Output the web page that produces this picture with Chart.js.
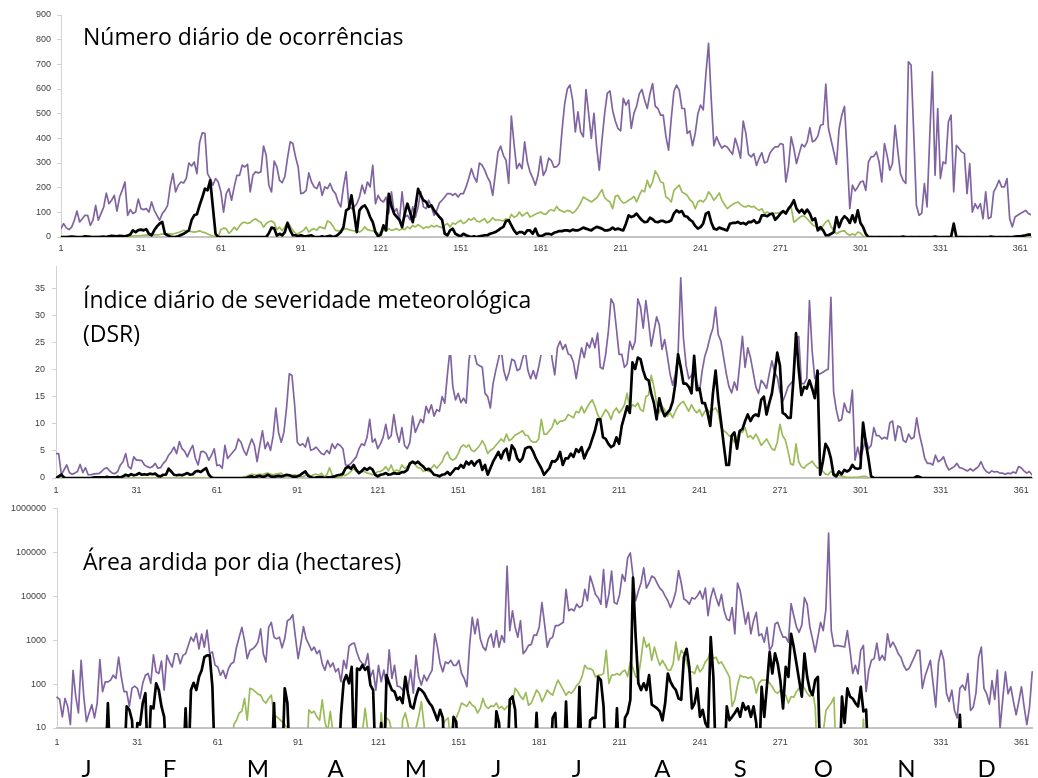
<!DOCTYPE html>
<html lang="pt">
<head>
<meta charset="utf-8">
<title>Ocorrências, DSR e área ardida por dia</title>
<script src="https://cdn.jsdelivr.net/npm/chart.js@4.4.0/dist/chart.umd.min.js"></script>
<style>
  html, body { margin: 0; padding: 0; background: #fff; }
  #wrap { position: relative; width: 1038px; height: 778px; overflow: hidden; background: #fff; }
  #wrap canvas { position: absolute; left: 0; }
</style>
</head>
<body>
<div id="wrap">
  <canvas id="cOcc" width="1038" height="254" style="top:0px"></canvas>
  <canvas id="cDsr" width="1038" height="242" style="top:254px"></canvas>
  <canvas id="cArea" width="1038" height="282" style="top:496px"></canvas>
</div>
<script>
// ---- axis ticks and labels ----
const dayTicks = [1, 31, 61, 91, 121, 151, 181, 211, 241, 271, 301, 331, 361];
const occTicks = [0, 100, 200, 300, 400, 500, 600, 700, 800, 900];
const dsrTicks = [0, 5, 10, 15, 20, 25, 30, 35];
const areaTicks = [10, 100, 1000, 10000, 100000, 1000000];
const monthLetters = ['J', 'F', 'M', 'A', 'M', 'J', 'J', 'A', 'S', 'O', 'N', 'D'];
const monthMidDays = [12, 43, 76, 105, 135, 165, 195, 227, 256, 287, 318, 348];

const titleOcc = ['Número diário de ocorrências'];
const titleDsr = ['Índice diário de severidade meteorológica', '(DSR)'];
const titleArea = ['Área ardida por dia (hectares)'];

// ---- daily number of occurrences (days 1..365) ----
const occTotal = [
  34,54,37,30,40,68,105,61,74,88,
  88,47,68,128,68,95,120,178,135,149,
  169,105,162,190,223,88,111,95,101,154,
  115,111,115,101,142,108,88,68,95,108,
  128,206,257,183,210,223,219,237,300,288,
  304,257,382,422,420,257,237,210,237,223,
  183,101,176,196,149,203,250,250,291,284,
  295,183,250,264,260,264,369,331,210,183,
  308,284,230,220,245,320,386,379,325,284,
  176,179,189,260,223,203,196,223,169,203,
  196,217,189,176,142,122,203,264,128,115,
  122,135,162,210,176,223,203,291,135,169,
  149,142,162,95,183,101,115,68,183,81,
  88,70,122,81,122,183,122,115,149,122,
  88,108,138,149,162,176,176,169,176,162,
  176,176,203,237,277,244,223,300,291,271,
  244,223,169,257,345,368,331,311,217,490,
  379,277,298,277,386,304,264,240,210,250,
  327,250,271,320,310,283,285,298,430,540,
  600,616,555,426,507,426,406,598,501,400,
  501,365,271,392,500,582,592,514,470,440,
  430,562,535,555,440,501,530,580,598,555,
  521,580,622,530,521,494,494,408,352,480,
  590,616,595,521,521,420,430,370,420,500,
  535,515,660,785,560,370,406,380,360,370,
  365,350,335,400,365,320,470,420,335,325,
  338,290,320,342,300,305,340,355,365,365,
  379,375,223,284,406,359,298,338,376,365,
  386,443,386,392,409,453,456,620,440,392,
  345,295,440,494,530,338,115,210,187,203,
  223,227,189,304,325,327,345,304,223,379,
  331,271,298,453,352,257,230,217,710,697,
  420,128,88,97,217,122,406,670,250,521,
  237,304,298,467,494,183,372,359,345,338,
  176,298,101,135,115,135,74,183,74,81,
  183,203,230,203,203,237,74,41,81,88,
  95,101,108,95,90
];
const occGreen = [
  2,2,1,1,2,2,1,1,2,3,
  2,1,1,2,2,1,1,2,3,3,
  2,2,3,3,4,3,3,4,5,5,
  6,7,8,8,9,10,9,10,12,13,
  14,13,12,15,18,22,27,25,24,22,
  20,22,25,20,18,12,8,4,2,1,
  30,36,34,15,25,40,28,45,57,60,
  55,58,68,74,65,60,40,55,62,65,
  58,30,40,25,40,61,45,27,15,13,
  20,27,40,20,30,34,27,41,38,34,
  65,60,45,27,25,27,30,34,30,27,
  25,27,20,27,41,30,27,25,20,13,
  20,27,25,34,27,30,34,27,34,30,
  41,34,47,41,50,43,34,41,38,47,
  41,47,41,38,47,55,41,57,52,61,
  68,55,61,74,68,78,65,61,68,74,
  57,65,78,68,70,68,65,74,68,92,
  80,85,101,85,92,100,81,86,92,97,
  101,94,92,105,111,105,124,110,105,101,
  108,105,97,105,120,138,162,155,149,142,
  150,158,175,192,160,149,142,115,165,169,
  150,138,140,149,155,165,142,169,190,183,
  230,200,223,268,250,223,220,162,155,142,
  189,200,210,183,176,169,151,142,115,142,
  149,142,155,183,169,149,162,179,149,132,
  115,124,132,138,142,132,124,122,128,122,
  124,115,108,115,95,101,95,92,97,97,
  100,100,100,110,122,60,68,78,85,85,
  74,62,50,44,38,27,47,61,68,41,
  27,13,20,24,25,13,7,13,7,20,
  16,3,2,1,2,1,1,2,1,1,
  1,2,1,1,1,2,1,1,1,2,
  1,1,2,1,1,1,1,2,1,1,
  1,1,1,2,1,1,1,1,2,1,
  1,1,1,1,2,1,1,1,1,1,
  2,1,1,1,1,2,1,1,1,2,
  1,2,2,2,3
];
const occBlack = [
  0,0,0,1,2,1,0,0,0,3,
  2,1,0,0,0,1,2,0,3,5,
  4,3,5,4,3,6,10,27,20,28,
  30,27,32,13,7,27,43,54,61,13,
  7,2,0,1,3,8,13,20,27,68,
  88,92,128,160,196,189,230,120,13,0,
  0,0,0,0,0,0,0,0,0,0,
  0,0,0,0,0,0,0,0,15,38,
  35,6,13,7,20,57,27,7,7,3,
  7,4,3,5,7,0,0,0,3,0,
  3,5,0,3,10,20,40,108,115,169,
  95,20,108,122,128,110,81,60,20,3,
  10,47,27,175,125,95,81,70,40,95,
  135,100,60,120,195,170,149,142,122,128,
  108,95,81,70,13,7,27,34,13,7,
  3,13,7,3,0,3,0,3,5,7,
  7,13,16,20,27,35,41,65,68,47,
  27,13,20,20,13,27,27,13,34,7,
  3,7,13,13,10,17,20,24,24,27,
  27,24,30,27,27,32,38,34,30,27,
  35,41,38,34,27,27,30,38,30,34,
  30,27,54,88,81,85,95,80,68,60,
  62,78,72,62,60,65,65,60,62,68,
  95,108,100,105,85,82,70,62,45,34,
  40,55,95,101,60,34,30,38,34,30,
  27,54,57,57,61,54,57,51,61,60,
  68,57,61,88,88,84,92,95,70,81,
  95,105,95,115,128,149,115,100,111,95,
  111,95,68,75,27,40,27,7,7,13,
  20,81,40,70,84,75,57,88,60,108,
  57,40,13,0,0,0,0,0,0,0,
  0,0,0,0,0,0,2,0,0,0,
  0,0,0,0,0,0,0,0,2,0,
  0,0,0,0,0,54,0,0,0,0,
  0,0,0,0,0,0,0,0,0,2,
  0,0,0,0,0,0,0,0,2,3,
  3,5,7,10,10
];

// ---- daily severity rating, DSR (days 1..365) ----
const dsrTotal = [
  4.5,4.5,0.6,1.5,2.4,1,0.7,0.9,1.2,2.5,
  1,1.9,0.6,0.6,0.7,0.8,0.8,1.2,1.7,1.9,
  1.3,0.9,0.8,1.2,2.4,3,4.5,2.1,1.7,3.9,
  3.3,3.3,3.2,2.4,2.1,1.9,2.1,2.7,1.8,1.9,
  2.7,3.2,4.2,4.8,5.7,4.5,6.7,5.4,4.9,3.9,
  5.1,6,3.6,2.4,4.8,4.9,4.5,3.3,4.2,5.4,
  2.3,2.4,1.8,6,3.6,4.2,4.8,5.4,7.2,6.6,
  5.1,4.2,5.8,7.2,6,3,6,8.7,5.4,6.6,
  5.1,7.8,12.9,8.4,6.6,8.4,13,19.2,18.9,13.5,
  6.6,6,6.3,5.7,7.5,5.1,5.3,5.7,5.1,4.5,
  4.3,5.1,4.5,6.3,5.4,6.3,6,5.4,2.4,2.3,
  2.7,3.3,3.9,5.4,6.3,6,7.5,10.8,6.6,7.2,
  5.4,6.3,7.5,9.9,7.2,7.8,11.7,8.4,6.6,9.3,
  6,5.4,6.6,11.4,8.4,9.6,10.8,10.2,13.2,12,
  13.5,11.4,12.6,12.3,15,13.8,19.2,24,16.8,14.4,
  15.6,13.9,14.7,13.8,21.6,25,23,21,20.7,20.4,
  15.6,15,12.9,17.4,19.8,21.9,24,19.8,18,19.5,
  21.9,21.6,19.8,20.1,22,23.5,19.8,18.3,19.8,18.3,
  20.4,23,26,24,27,22,19,24,25.2,23.7,
  24.6,22.9,22.6,21.3,18.3,21.3,24,22.2,24.9,24,
  25.8,24,26.7,20.4,20.1,22.8,27,33,32.1,27.6,
  22.8,22.8,20.4,21,25.2,23.7,25.2,33,31.5,27.6,
  32.7,28.8,24.3,27,29.7,28.2,23.7,25.5,22.5,19.2,
  17.1,19.2,22.8,36.9,25.8,20.7,18.3,18.9,19.8,17.7,
  15.9,19.8,22.5,24,26.1,27.6,31.5,26.4,25.2,22.2,
  19.2,16.8,15.7,17.7,16.2,21,26.1,20.4,24,22.2,
  19.5,16.8,15.6,18,17.4,16.5,19.2,21.6,19.5,18.6,
  15.9,14.1,15.3,16.8,17.4,18,25.8,26.1,17.4,17.4,
  18.3,32.7,23.4,18.3,19.2,19.2,19.5,19.8,20.1,33.3,
  15.9,12.6,10.5,10.8,13.8,12.3,12,16.2,3.3,5.7,
  3.6,5.4,7.2,5.4,6,9.3,7.8,7.8,7.2,7.5,
  7.2,10.2,10.5,6.9,9.6,9.3,6.9,6.6,8.1,7.2,
  7.5,11.1,8.1,6,3.6,2.7,2.7,2.4,4.2,3,
  3.3,3.9,2.4,1.5,1.8,2.1,2.7,1.9,1.8,1.5,
  1.3,1.7,1.3,1.7,2.1,3,1.8,1.2,0.9,1.3,
  1.1,1.2,0.9,0.9,0.7,0.9,0.8,1.1,0.9,2.1,
  1.9,1.3,0.9,1.2,0.6
];
const dsrGreen = [
  0,0,0,0,0,0,0,0,0,0,
  0,0,0,0,0,0,0,0,0,0,
  0,0,0,0,0,0,0,0,0,0,
  0,0,0,0,0,0,0,0,0,0,
  0,0,0,0,0,0,0,0,0,0,
  0,0,0,0,0,0,0,0,0,0,
  0,0,0,0,0,0,0,0,0,0,
  0.2,0.3,0.5,0.7,0.6,0.6,0.7,0.6,0.8,0.9,
  0.7,0.6,0.7,0.8,0.9,0.5,0.4,0.3,0.5,0.6,
  0.4,0.3,0.2,0.5,0.7,0.3,0.6,0.7,0.5,0.9,
  0.2,0.6,1.9,0.6,0.1,0.1,0.1,0.5,0.5,0.8,
  1.2,1.8,1.2,1.1,1.1,1.2,0.9,0.8,0.6,0.7,
  1.2,1.2,1.5,2.1,1.3,2.4,1.1,1.5,1.2,2.4,
  1.8,2.1,2.4,3,2.4,1.9,1.8,1.2,1.5,1.2,
  1.8,2.4,1.8,2.4,3,4.2,4.8,3.6,3.3,3.6,
  4.5,5.7,6.1,5.7,6.1,5.1,4.9,5.4,6,6.9,
  6,4.5,5.1,5.4,6,6.6,7.2,6.7,8.1,6.9,
  7.2,7.8,8.1,8.4,8.7,7.9,7.8,6.9,6.6,6.6,
  7.2,10.8,8.1,8.1,8.7,9.3,10.8,9.9,10.5,10.5,
  10.8,11.7,11.4,11.1,12.3,12,13.2,12,12.9,13.8,
  14.4,13.2,11.7,10.8,11.7,12.6,12,10.8,12.3,12.9,
  12,12.6,13.5,15.6,12.6,13.5,13.2,13.8,12.6,12.3,
  15,15.3,18.9,16.8,13.8,12,13.2,12.6,11.4,12,
  11.1,12.3,13.2,13.8,14.1,13.2,12.3,13.5,12.6,12,
  12.6,11.4,12.3,12.6,12,12.6,12.9,12,9.3,8.7,
  8.4,7.8,7.5,6.6,7.5,8.7,8.4,9.3,7.5,7.8,
  7.2,8.1,7.2,6,6.6,7.2,6.3,5.4,5.1,6.6,
  9.9,7.8,7,5,2.6,2.4,6.3,3,2.1,1.8,
  2.4,2.7,3.1,2.4,1.8,2.1,1.2,0.7,0.6,1.2,
  0.9,0.6,0.5,0.3,0.2,0.1,0.1,0.1,0.1,0.1,
  0.2,0.3,0.3,0,0,0,0,0,0,0,
  0,0,0,0,0,0,0,0,0,0,
  0,0,0,0,0,0,0,0,0,0,
  0,0,0,0,0,0,0,0,0,0,
  0,0,0,0,0,0,0,0,0,0,
  0,0,0,0,0,0,0,0,0,0,
  0,0,0,0,0
];
const dsrBlack = [
  0,0.3,0.6,0.1,0,0,0,0,0,0,
  0,0,0,0,0.1,0.1,0.1,0.1,0.1,0.2,
  0.1,0.1,0.1,0.2,0.1,0.3,0.6,0.4,0.7,0.5,
  0.6,0.9,0.6,0.7,0.6,0.8,0.7,0.8,0.4,0.3,
  0.6,0.6,1.7,1.2,0.6,0.5,0.6,0.5,0.7,0.9,
  0.6,0.7,1.2,1.3,1.1,1.5,1.8,0.6,0.1,0,
  0,0,0,0,0,0,0,0,0,0,
  0,0,0.2,0.3,0.1,0.3,0.4,0.2,0.3,0.6,
  0.3,0.2,0.3,0.4,0.3,0.4,0.6,0.5,0.3,0.2,
  0.3,0.5,0.9,1.2,0.4,0.2,0,0.1,0.1,0.2,
  0,0.1,0.1,0.2,0.3,0.5,0.6,0.8,1.8,2.1,
  1.7,2.4,1.5,0.9,1.3,1.8,1.5,1.9,1.6,0.6,
  0.3,0.6,0.7,0.9,0.6,0.7,0.9,0.8,0.8,1.1,
  1.1,1.5,2.7,3,2.7,3,2.5,2.1,1.5,1.7,
  1.2,0.6,0.5,0.3,0.6,0.7,1.1,0.6,1.2,1.8,
  1.7,2.4,1.9,3,2.5,3.1,2.3,3,3.3,1.5,
  2.4,0.6,1.8,3,3.9,4.8,3.6,4.9,5.4,3.3,
  6,5.3,3.6,3,3.6,5.4,5.7,5.7,4.8,3.6,
  2.7,1.8,0.6,1.2,1.8,3.1,3,3.5,4.8,2.4,
  3.6,3.6,4.5,3.9,5.3,4.8,5.7,3.6,4.8,5.7,
  7.2,8.7,10.8,10.8,7.5,7.2,6.3,5.7,6,7.5,
  6.3,9.6,11.4,13.2,12,21.3,20.1,22.2,21.9,19.8,
  18.3,18,15.6,13.8,10.8,14.7,12.6,11.4,12,12.6,
  14.1,17.4,22.8,20.4,17.4,17.4,16.8,15.6,22.5,16.2,
  16.5,13.8,13.8,12,9.6,15.6,19.8,14.4,10.5,6.3,
  2.4,2.4,7.8,8.4,5.4,8.7,9,10.5,11.7,10.5,
  11.4,11.7,11.4,14.4,15,11.7,13.8,15.6,19.2,23.1,
  20.7,12,11.7,11.1,11.1,18,26.7,20,15.3,16.8,
  16.5,18,16.5,14.7,19.8,0.6,3,6.3,5.4,3.6,
  0.6,0.3,1.2,0.7,1.5,1.2,1.5,2.4,1.8,1.7,
  1.8,10.2,6.6,3.6,0.3,0,0,0,0,0,
  0,0,0,0,0,0,0,0,0,0,
  0,0.3,0.2,0,0,0,0,0,0,0,
  0,0,0,0,0,0,0,0,0,0,
  0,0,0,0,0,0,0,0,0,0,
  0,0,0,0,0,0,0,0,0,0,
  0,0,0,0,0
];

// ---- daily burned area, hectares (days 1..365) ----
const areaTotal = [
  50,45,18,47,31,12,205,52,22,346,
  52,14,22,34,17,37,360,67,112,112,
  123,159,135,410,146,67,67,31,81,90,
  80,47,104,159,174,104,465,190,174,335,
  73,450,318,245,490,490,290,450,490,755,
  1170,940,1440,635,1380,690,1700,490,540,270,
  245,159,205,135,225,290,318,690,1170,1950,
  980,380,580,635,720,900,1800,490,318,1950,
  2530,1170,1070,1170,671,1070,2780,3030,3790,1170,
  379,826,2030,1070,798,585,695,492,585,293,
  207,348,246,303,190,226,113,348,226,719,
  826,856,509,348,293,268,492,146,207,73,
  268,113,207,87,605,134,268,90,87,73,
  104,80,207,62,451,146,95,160,119,160,
  207,1390,695,293,190,319,293,348,268,268,
  348,174,134,87,758,3300,1390,3030,1070,695,
  585,1070,1390,695,1650,695,1270,900,48300,1650,
  4670,1960,1170,2780,492,585,760,800,1300,1300,
  2000,7200,2330,695,1070,1170,2140,2140,2330,2550,
  14400,4670,5100,4670,6620,5540,6050,14400,7900,28800,
  18300,11000,9260,6620,40600,5540,11000,37200,7200,6620,
  11000,31300,22000,74500,96600,28800,7900,13200,20000,44300,
  15300,20000,28800,26400,20000,15300,13200,10100,7900,5540,
  7900,13200,38500,20000,8650,7900,6620,9260,8650,10100,
  13200,8650,15300,3600,9260,15300,9260,6050,11000,4670,
  3030,2780,5540,1390,20000,13200,5540,2330,4280,1390,
  2780,4280,1270,1390,900,1960,585,758,2330,2550,
  1650,1170,1170,900,6800,3600,2000,1510,2200,9260,
  6620,2000,1070,538,1170,2550,1650,5100,273000,1650,
  720,758,740,720,700,1650,585,174,268,170,
  585,758,67,207,348,380,856,348,451,348,
  1390,695,900,695,492,410,268,207,226,303,
  410,585,585,80,150,230,348,104,30,300,
  585,348,62,40,73,25,17,80,95,73,
  174,25,30,62,410,695,80,60,35,120,
  45,207,10,45,190,60,87,40,20,40,
  87,30,12,30,190
];
const areaGreen = [
  1,1,1,1,1,1,1,1,1,1,
  1,1,1,1,1,1,1,1,1,1,
  1,1,1,1,1,1,1,1,1,1,
  1,1,1,1,1,1,1,1,1,1,
  1,1,1,1,1,1,1,1,1,1,
  1,1,1,1,1,1,1,1,1,1,
  1,1,1,1,1,1,12,15,22,24,
  47,15,80,76,67,59,56,42,37,47,
  56,20,18,16,14,12,10,1,1,1,
  1,1,1,1,26,22,24,18,15,44,
  14,8,24,8,1,1,1,1,1,1,
  1,1,1,1,8,28,9,1,1,1,
  1,22,5,17,15,8,1,1,1,15,
  22,12,5,1,10,18,40,12,1,1,
  1,1,1,5,12,15,17,5,15,17,
  24,37,34,31,40,33,30,22,28,47,
  31,28,32,31,37,28,31,26,31,33,
  37,80,67,52,45,64,33,37,52,73,
  62,40,52,73,62,56,87,123,95,73,
  56,67,62,73,95,107,150,268,226,226,
  207,146,160,160,174,585,104,160,160,174,
  160,190,207,150,320,226,146,146,379,1170,
  695,830,348,695,410,268,348,268,207,207,
  293,900,348,585,492,320,190,190,174,268,
  190,226,320,379,585,379,410,293,320,246,
  190,146,31,44,95,160,146,146,134,146,
  123,62,104,123,123,123,104,87,67,62,
  73,56,56,37,52,50,67,80,95,80,
  62,52,73,30,1,1,8,25,31,37,
  50,1,1,1,1,1,1,1,1,1,
  1,16,1,1,1,1,1,1,1,1,
  1,1,1,1,1,1,1,1,1,1,
  1,1,1,1,1,1,1,1,1,1,
  1,1,1,1,1,1,1,1,1,1,
  1,1,1,1,1,1,1,1,1,1,
  1,1,1,1,1,1,1,1,1,1,
  1,1,1,1,1
];
const areaBlack = [
  1,1,1,1,1,1,1,1,1,1,
  1,1,1,1,1,1,1,1,1,37,
  1,1,1,1,1,1,31,26,15,1,
  13,12,37,62,1,31,28,104,73,31,
  18,1,1,1,1,1,1,1,28,1,
  73,107,73,146,207,410,450,450,87,1,
  1,1,1,1,1,1,1,1,1,1,
  1,1,1,1,1,1,1,1,1,1,
  1,37,1,1,1,80,37,1,1,1,
  1,1,1,1,1,1,1,1,1,1,
  1,1,1,1,1,1,20,113,160,104,
  246,1,226,210,268,210,246,95,73,1,
  1,13,1,160,104,73,67,44,50,37,
  146,62,31,28,52,80,73,62,47,37,
  31,22,15,26,17,1,1,1,18,14,
  1,1,1,1,1,1,1,1,1,1,
  1,1,1,1,24,13,1,1,1,44,
  52,26,1,1,1,1,1,1,1,22,
  1,1,1,1,1,17,22,1,1,1,
  40,1,1,1,1,87,1,1,1,15,
  17,17,146,123,31,1,1,1,1,28,
  1,1,17,22,44,26400,1170,104,73,104,
  73,160,34,31,28,24,15,37,174,113,
  87,73,47,44,410,637,246,28,37,80,
  18,26,13,10,1170,146,1,1,1,1,
  31,15,18,22,28,18,37,26,31,18,
  31,13,1,87,18,95,536,174,500,293,
  120,28,246,146,1390,695,293,123,52,492,
  146,73,56,123,146,1,1,1,1,1,
  1,1,1,52,13,80,52,47,37,31,
  87,24,26,1,1,1,1,1,1,1,
  1,1,1,1,1,1,1,1,1,1,
  1,1,1,1,1,1,1,1,1,1,
  1,1,1,1,1,1,1,20,1,1,
  1,1,1,1,1,1,1,1,1,1,
  1,1,1,1,1,1,1,1,1,1,
  1,1,1,1,1
];

// ---- styling ----
const COLOR_TOTAL = '#8064A2';
const COLOR_GREEN = '#9BBB59';
const COLOR_BLACK = '#000000';
const TICK_COLOR = '#404040';
const AXIS_X_COLOR = '#c4c4c4';
const AXIS_Y_COLOR = '#d2d2d2';
const TITLE_FONT = "23px 'Open Sans'";
const MONTH_FONT = '24px Lato';

Chart.defaults.font.family = "'Liberation Sans', Arial, sans-serif";
Chart.defaults.font.size = 9;

function points(values) {
  return values.map((v, i) => ({ x: i + 1, y: v }));
}

function line(values, color, width, clip) {
  const ds = {
    data: points(values),
    borderColor: color,
    borderWidth: width,
    pointRadius: 0,
    pointHoverRadius: 0,
    fill: false,
    tension: 0,
    borderJoinStyle: 'round',
    borderCapStyle: 'round'
  };
  if (clip !== undefined) ds.clip = clip;
  return ds;
}

function dayAxis(height, pad) {
  return {
    type: 'linear',
    min: 1,
    max: 365,
    afterBuildTicks: s => { s.ticks = dayTicks.map(v => ({ value: v })); },
    afterFit: s => { s.height = height; },
    ticks: { color: TICK_COLOR, padding: pad, maxRotation: 0, autoSkip: false, callback: v => String(v) },
    grid: { display: false, drawTicks: false },
    border: { display: true, color: AXIS_X_COLOR, width: 2 }
  };
}

function valueAxis(extra, ticks, width, pad) {
  return Object.assign({
    afterBuildTicks: s => { s.ticks = ticks.map(v => ({ value: v })); },
    afterFit: s => { s.width = width; },
    ticks: { color: TICK_COLOR, padding: pad, callback: v => String(v) },
    grid: { display: true, drawOnChartArea: false, drawTicks: true, tickLength: 4, color: AXIS_Y_COLOR },
    border: { display: true, color: AXIS_Y_COLOR, width: 1 }
  }, extra);
}

// panel heading drawn over the plot; an optional white box hides what lies under it
function headingPlugin(lines, x, baselines, box) {
  return {
    id: 'heading',
    afterDatasetsDraw(chart) {
      const ctx = chart.ctx;
      ctx.save();
      if (box) {
        ctx.fillStyle = '#ffffff';
        ctx.fillRect(box[0], box[1], box[2], box[3]);
      }
      ctx.fillStyle = '#000000';
      ctx.font = TITLE_FONT;
      ctx.textAlign = 'left';
      ctx.textBaseline = 'alphabetic';
      lines.forEach((t, i) => ctx.fillText(t, x, baselines[i]));
      ctx.restore();
    }
  };
}

// month initials under the lowest panel, centred on mid-month days
const monthPlugin = {
  id: 'months',
  afterDraw(chart) {
    const ctx = chart.ctx;
    const xs = chart.scales.x;
    ctx.save();
    ctx.fillStyle = '#000000';
    ctx.font = MONTH_FONT;
    ctx.textAlign = 'center';
    ctx.textBaseline = 'alphabetic';
    monthLetters.forEach((m, i) => ctx.fillText(m, xs.getPixelForValue(monthMidDays[i]), chart.height - 1));
    ctx.restore();
  }
};

function baseOptions(padding, scales) {
  return {
    responsive: false,
    animation: false,
    events: [],
    layout: { padding },
    scales,
    plugins: { legend: { display: false }, tooltip: { enabled: false }, title: { display: false } }
  };
}

// Panel 1: daily occurrences
new Chart(document.getElementById('cOcc'), {
  type: 'line',
  data: {
    datasets: [
      line(occBlack, COLOR_BLACK, 2.7),
      line(occGreen, COLOR_GREEN, 1.7),
      line(occTotal, COLOR_TOTAL, 1.7)
    ]
  },
  options: baseOptions(
    { top: 15, right: 7, left: 0, bottom: 0 },
    {
      x: dayAxis(17, 6),
      y: valueAxis({ type: 'linear', min: 0, max: 900 }, occTicks, 61, 6)
    }
  ),
  plugins: [headingPlugin(titleOcc, 83, [45])]
});

// Panel 2: daily severity rating
new Chart(document.getElementById('cDsr'), {
  type: 'line',
  data: {
    datasets: [
      line(dsrBlack, COLOR_BLACK, 2.7),
      line(dsrGreen, COLOR_GREEN, 1.7),
      line(dsrTotal, COLOR_TOTAL, 1.7)
    ]
  },
  options: baseOptions(
    { top: 8, right: 6, left: 0, bottom: 0 },
    {
      x: dayAxis(18, 7),
      y: valueAxis({ type: 'linear', min: 0, max: 39 }, dsrTicks, 56, 7)
    }
  ),
  plugins: [headingPlugin(titleDsr, 83, [54, 88], [78, 8, 478, 93])]
});

// Panel 3: burned area per day, log scale
const areaClip = { left: 2, right: 2, top: 2, bottom: 0 };
new Chart(document.getElementById('cArea'), {
  type: 'line',
  data: {
    datasets: [
      line(areaBlack, COLOR_BLACK, 2.7, areaClip),
      line(areaGreen, COLOR_GREEN, 1.7, areaClip),
      line(areaTotal, COLOR_TOTAL, 1.7, areaClip)
    ]
  },
  options: baseOptions(
    { top: 11, right: 0, left: 0, bottom: 0 },
    {
      x: dayAxis(50, 9),
      y: valueAxis({ type: 'logarithmic', min: 10, max: 1000000 }, areaTicks, 57, 7)
    }
  ),
  plugins: [headingPlugin(titleArea, 83, [74]), monthPlugin]
});
</script>
</body>
</html>
